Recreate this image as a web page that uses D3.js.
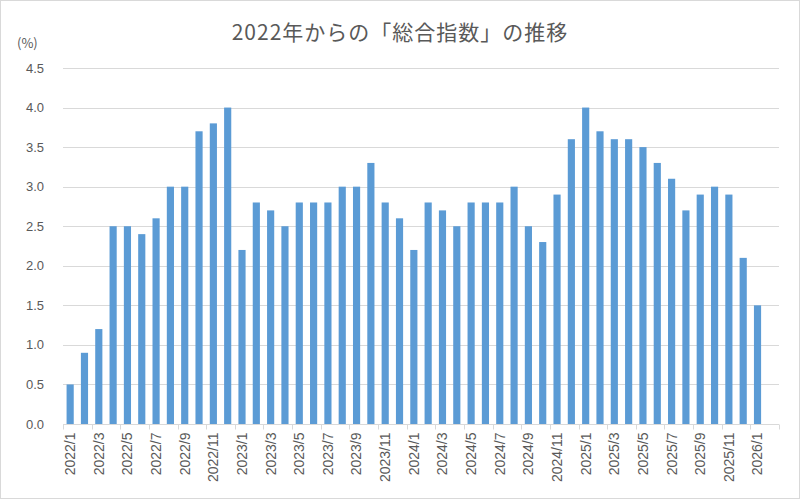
<!DOCTYPE html>
<html><head><meta charset="utf-8">
<script src="https://cdn.jsdelivr.net/npm/d3@7"></script>
<style>
html,body{margin:0;padding:0;background:#fff;}
svg{display:block;}
</style></head>
<body>
<script>
const months = [];
const years = [2022, 2023, 2024, 2025];
years.forEach(y => { for (let m = 1; m <= 12; m++) months.push(y + "/" + m); });
months.push("2026/1", "2026/2");
const values = [
  0.5, 0.9, 1.2, 2.5, 2.5, 2.4, 2.6, 3.0, 3.0, 3.7, 3.8, 4.0,
  2.2, 2.8, 2.7, 2.5, 2.8, 2.8, 2.8, 3.0, 3.0, 3.3, 2.8, 2.6,
  2.2, 2.8, 2.7, 2.5, 2.8, 2.8, 2.8, 3.0, 2.5, 2.3, 2.9, 3.6,
  4.0, 3.7, 3.6, 3.6, 3.5, 3.3, 3.1, 2.7, 2.9, 3.0, 2.9, 2.1,
  1.5, null
];
const yTicks = [0, 0.5, 1, 1.5, 2, 2.5, 3, 3.5, 4, 4.5];
const title = "2022年からの「総合指数」の推移";
const unitLabel = "(%)";

const W = 800, H = 501;
const m = {left: 63, right: 21, top: 68, bottom: 77};
const svg = d3.select("body").append("svg").attr("width", W).attr("height", H);
svg.append("rect").attr("x", 0.5).attr("y", 0.5).attr("width", W - 1).attr("height", H - 3)
  .attr("fill", "#fff").attr("stroke", "#d9d9d9");

const x = d3.scaleBand().domain(months).range([m.left, W - m.right]).paddingInner(0.5).paddingOuter(0.25);
const y = d3.scaleLinear().domain([0, 4.5]).range([H - m.bottom, m.top]);
const font = "'Noto Sans CJK JP', 'Noto Sans', sans-serif";
const numFont = "'Liberation Sans', Arial, sans-serif";
const gray = "#595959";

// gridlines
svg.append("g").selectAll("line").data(yTicks.filter(d => d > 0)).join("line")
  .attr("x1", m.left).attr("x2", W - m.right)
  .attr("y1", d => Math.round(y(d)) + 0.5).attr("y2", d => Math.round(y(d)) + 0.5)
  .attr("stroke", "#d9d9d9").attr("stroke-width", 1);

// y labels
svg.append("g").selectAll("text").data(yTicks).join("text")
  .attr("x", 44).attr("y", d => y(d)).attr("dy", "0.35em")
  .attr("text-anchor", "end").attr("fill", gray)
  .attr("font-family", numFont).attr("font-size", 13)
  .text(d => d.toFixed(1));

// bars
svg.append("g").selectAll("rect").data(values.map((v, i) => ({v, k: months[i]})).filter(d => d.v != null)).join("rect")
  .attr("x", d => x(d.k)).attr("width", x.bandwidth())
  .attr("y", d => y(d.v)).attr("height", d => y(0) - y(d.v))
  .attr("fill", "#5b9bd5");

// x axis
const step = x.step();
const baseY = Math.round(y(0)) + 0.5;
svg.append("line").attr("x1", m.left).attr("x2", W - m.right).attr("y1", baseY).attr("y2", baseY)
  .attr("stroke", "#d9d9d9");
const tickIdx = d3.range(0, months.length + 1, 2);
svg.append("g").selectAll("line").data(tickIdx).join("line")
  .each(function(i) {
    const xx = Math.round(m.left + i * step) + 0.5;
    d3.select(this).attr("x1", xx).attr("x2", xx);
  })
  .attr("y1", baseY).attr("y2", baseY + 5).attr("stroke", "#d9d9d9");

svg.append("g").selectAll("text").data(months.filter((d, i) => i % 2 === 0)).join("text")
  .attr("transform", d => `translate(${x(d) + x.bandwidth() / 2},${baseY + 8}) rotate(-90)`)
  .attr("text-anchor", "end").attr("dy", "0.35em")
  .attr("fill", gray).attr("font-family", numFont).attr("font-size", 14)
  .text(d => d);

// title
svg.append("text").attr("x", 400).attr("y", 40).attr("text-anchor", "middle")
  .attr("fill", gray).attr("font-family", font).attr("font-size", 21)
  .attr("letter-spacing", 1).text(title);
svg.append("text").attr("x", 17).attr("y", 48).attr("fill", gray)
  .attr("font-family", font).attr("font-size", 13).text(unitLabel);
</script>
</body></html>
